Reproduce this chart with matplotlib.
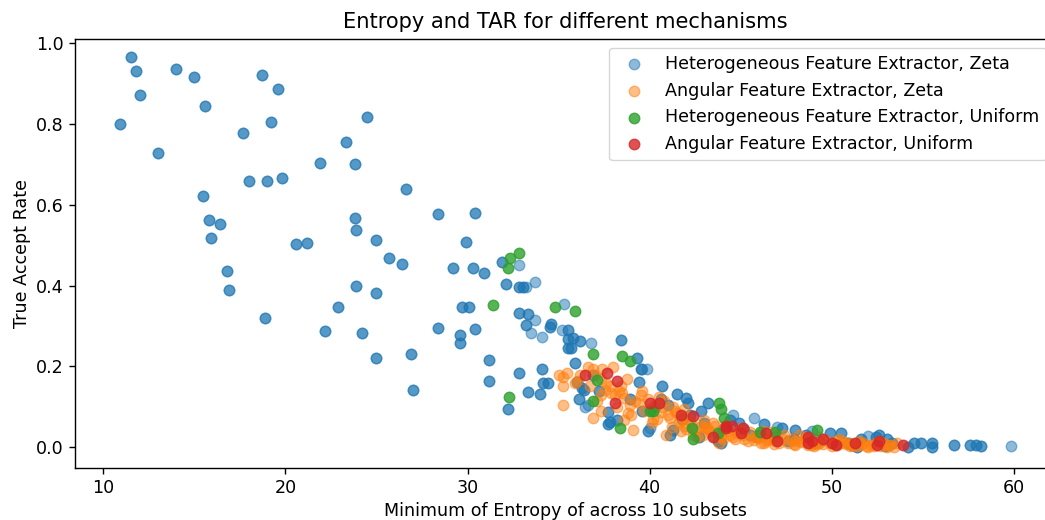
import matplotlib
matplotlib.use("Agg")
import matplotlib.pyplot as plt

# Heterogeneous Feature Extractor, Zeta -- points that occur twice in the data
hz_rep_x = [11.5, 11.8, 12.0, 10.9, 13.0, 14.0, 15.0, 15.6, 15.5, 15.8, 15.9, 16.4, 16.8, 16.9,
            17.7, 18.0, 18.7, 18.9, 19.0, 19.2, 19.6, 19.8, 20.6, 21.2, 21.9, 22.2, 22.9, 23.3,
            23.8, 23.8, 23.9, 23.9, 24.2, 24.5, 25.0, 25.0, 25.0, 25.7, 26.4, 26.6, 26.9, 27.0,
            28.4, 28.4, 29.2, 29.6, 29.6, 29.7, 29.9, 30.1, 30.3, 30.4, 30.4, 30.9, 31.2, 31.2,
            31.9, 32.1, 32.8, 33.05, 32.8, 33.3, 33.2, 34.5, 35.5, 35.8, 36.2, 35.5, 35.7,
            32.8, 34.1, 32.2, 33.3, 34.0, 34.15, 34.4, 35.9, 36.0, 36.1, 36.4, 38.4, 39.3,
            39.5, 39.4, 40.7, 41.5, 42.0, 42.1, 43.2, 36.3, 37.7, 37.7, 37.8, 38.2, 39.6, 39.9,
            41.1, 41.3, 43.75, 46.3, 47.25, 48.0, 49.9, 50.5, 52.4, 51.4, 52.6, 53.0, 54.2,
            54.5, 54.9, 55.5, 55.5, 56.7, 57.6, 57.9, 58.2, 35.5, 42.2, 42.8, 44.4, 45.2, 46.0,
            47.6, 48.6, 49.3, 50.9, 51.6, 53.3, 42.7, 43.9, 40.6, 41.0, 44.9, 45.9, 34.6,
            37.2, 38.9, 40.3, 41.8, 43.0, 44.0, 45.5, 46.8, 47.9, 49.0, 50.2, 51.1, 52.9, 36.9]
hz_rep_y = [0.964, 0.930, 0.870, 0.800, 0.727, 0.935, 0.915, 0.843, 0.620, 0.563, 0.517, 0.551,
            0.437, 0.388, 0.776, 0.657, 0.920, 0.319, 0.657, 0.803, 0.885, 0.665, 0.502, 0.504,
            0.702, 0.287, 0.346, 0.754, 0.700, 0.566, 0.536, 0.398, 0.282, 0.816, 0.512, 0.381,
            0.220, 0.467, 0.452, 0.638, 0.230, 0.143, 0.576, 0.294, 0.443, 0.257, 0.277, 0.346,
            0.507, 0.346, 0.443, 0.578, 0.292, 0.430, 0.215, 0.163, 0.457, 0.405, 0.396, 0.396,
            0.331, 0.329, 0.302, 0.297, 0.267, 0.270, 0.262, 0.245, 0.245, 0.185, 0.193, 0.096,
            0.138, 0.133, 0.158, 0.158, 0.208, 0.161, 0.119, 0.141, 0.265, 0.220, 0.195, 0.161,
            0.153, 0.133, 0.121, 0.111, 0.109, 0.146, 0.087, 0.059, 0.062, 0.067, 0.091, 0.040,
            0.030, 0.042, 0.017, 0.059, 0.049, 0.042, 0.035, 0.035, 0.025, 0.000, 0.030, 0.022,
            0.000, 0.012, 0.012, 0.012, 0.000, 0.005, 0.005, 0.005, 0.003, 0.289, 0.080, 0.090,
            0.067, 0.042, 0.030, 0.017, 0.030, 0.017, 0.012, 0.020, 0.010, 0.025, 0.010, 0.120,
            0.105, 0.060, 0.025, 0.305,
            0.140, 0.120, 0.100, 0.070, 0.060, 0.045, 0.030, 0.025, 0.020, 0.012, 0.008, 0.006,
            0.004, 0.180]
# Heterogeneous Feature Extractor, Zeta -- points that occur once
hz_one_x = [32.8, 33.2, 33.7, 33.7, 33.5, 34.1, 35.2, 35.3, 36.8, 36.45, 39.6, 39.85, 36.6,
            40.0, 45.7, 59.85, 44.6, 47.0, 48.9, 52.0]
hz_one_y = [0.450, 0.396, 0.408, 0.314, 0.282, 0.272, 0.289, 0.354, 0.257, 0.101, 0.195, 0.195,
            0.104, 0.049, 0.072, 0.003, 0.080, 0.050, 0.040, 0.028]

# Angular Feature Extractor, Zeta
az_x = [35.0, 35.25, 35.25, 35.25, 35.45, 36.6, 36.9, 37.4, 38.0, 36.2, 36.7, 37.3, 37.8, 38.4,
        38.75, 37.3, 37.55, 38.1, 38.6, 38.9, 39.2, 39.5, 39.7, 39.1, 38.6, 40.3, 40.6, 40.8,
        41.1, 41.4, 41.7, 41.9, 42.2, 42.5, 42.8, 43.0, 43.3, 43.6, 43.85, 44.1, 44.4, 44.95,
        45.2, 45.5, 46.05, 46.6, 46.9, 47.4, 48.0, 48.2, 48.8, 49.3, 49.9, 50.4, 51.0, 51.5,
        52.1, 52.6, 53.2, 53.6, 35.9, 37.0, 38.3, 39.9, 40.4, 40.7, 41.2, 41.7, 42.4, 42.9,
        43.2, 44.7, 45.8, 46.4, 47.3, 48.5, 49.3, 50.6, 51.6, 52.8, 37.3, 36.9, 39.0, 40.1,
        41.5, 42.0, 43.5, 44.2, 45.0, 46.2, 47.0, 47.8, 48.6, 49.6, 50.2, 51.2, 52.3, 53.0,
        40.9, 42.6, 44.0, 45.4, 46.8, 48.0, 49.0, 50.0, 51.0, 52.0, 53.4, 43.8, 41.9, 38.2,
        36.0, 37.9, 39.4, 40.0, 41.0, 42.3, 43.1, 44.3, 45.1, 45.9, 46.7, 47.6, 48.4, 49.2,
        50.0, 50.8, 51.7, 52.4, 53.1, 39.6, 41.3, 43.9, 46.1, 48.9, 51.4, 37.6, 38.5, 40.5,
        42.0, 43.4, 44.6, 45.7, 46.3, 47.1, 47.9, 48.7, 49.5, 50.3, 51.1, 51.9, 52.7, 40.2,
        41.6, 43.0, 44.8, 46.5, 48.3, 50.5, 37.1, 38.8]
az_y = [0.178, 0.173, 0.153, 0.106, 0.185, 0.198, 0.195, 0.195, 0.198, 0.178, 0.153, 0.170,
        0.153, 0.153, 0.170, 0.129, 0.141, 0.129, 0.121, 0.104, 0.116, 0.129, 0.091, 0.042,
        0.067, 0.104, 0.087, 0.116, 0.072, 0.091, 0.067, 0.054, 0.067, 0.042, 0.054, 0.067,
        0.037, 0.054, 0.030, 0.047, 0.030, 0.042, 0.022, 0.037, 0.027, 0.037, 0.017, 0.030,
        0.017, 0.030, 0.012, 0.025, 0.010, 0.022, 0.010, 0.017, 0.007, 0.017, 0.005, 0.012,
        0.160, 0.180, 0.140, 0.120, 0.070, 0.100, 0.050, 0.040, 0.030, 0.030, 0.045, 0.020,
        0.025, 0.015, 0.020, 0.020, 0.012, 0.015, 0.008, 0.010, 0.091, 0.072, 0.080, 0.060,
        0.085, 0.075, 0.060, 0.055, 0.045, 0.040, 0.028, 0.022, 0.025, 0.018, 0.015, 0.006,
        0.004, 0.002, 0.030, 0.025, 0.020, 0.015, 0.008, 0.005, 0.003, 0.004, 0.003, 0.002,
        0.001, 0.012, 0.095, 0.100,
        0.165, 0.135, 0.110, 0.095, 0.080, 0.055, 0.048, 0.040, 0.030, 0.025, 0.022, 0.012,
        0.015, 0.008, 0.012, 0.008, 0.010, 0.010, 0.007, 0.140, 0.100, 0.025, 0.010, 0.006,
        0.004, 0.160, 0.135, 0.125,
        0.045, 0.030, 0.025, 0.018, 0.012, 0.010, 0.008, 0.006, 0.008, 0.005, 0.006, 0.004,
        0.003, 0.070, 0.062, 0.050, 0.035, 0.020, 0.014, 0.012, 0.115, 0.085]

# Heterogeneous Feature Extractor, Uniform
hu_x = [32.35, 32.85, 32.2, 31.4, 34.8, 35.9, 36.9, 32.3, 37.1, 36.9, 38.5, 38.9, 40.0, 40.2,
        38.35, 42.3, 42.4, 43.8, 43.9, 44.1, 43.75, 46.05, 46.9, 49.2]
hu_y = [0.467, 0.480, 0.443, 0.351, 0.346, 0.336, 0.232, 0.124, 0.166, 0.114, 0.225, 0.213,
        0.091, 0.091, 0.049, 0.049, 0.022, 0.111, 0.096, 0.074, 0.035, 0.037, 0.037, 0.042]

# Angular Feature Extractor, Uniform
au_x = [36.45, 37.65, 38.2, 38.1, 40.0, 40.5, 41.7, 42.4, 43.5, 44.2, 44.2, 44.5, 45.1, 45.0,
        46.4, 47.0, 48.7, 48.7, 48.9, 49.5, 50.0, 50.2, 51.25, 52.6, 52.5, 53.9]
au_y = [0.178, 0.183, 0.163, 0.111, 0.111, 0.111, 0.079, 0.077, 0.027, 0.049, 0.054, 0.054,
        0.049, 0.035, 0.035, 0.017, 0.025, 0.012, 0.015, 0.022, 0.012, 0.007, 0.010, 0.015,
        0.005, 0.005]

hz_x = hz_rep_x + hz_rep_x + hz_one_x
hz_y = hz_rep_y + hz_rep_y + hz_one_y

k = 1.26  # the source figure was drawn at a higher dpi
plt.rcParams.update({"font.size": 10 * k, "xtick.major.size": 3.5 * k,
                     "ytick.major.size": 3.5 * k, "xtick.major.width": 0.8 * k,
                     "ytick.major.width": 0.8 * k, "axes.linewidth": 0.8 * k})

fig = plt.figure(figsize=(10.45, 5.2), dpi=100)
ax = fig.add_axes([75 / 1045, 52.3 / 520, 980 / 1045, 428.7 / 520])

ms = 36 * k * k
ax.scatter(hz_x, hz_y, s=ms, alpha=0.5, label="Heterogeneous Feature Extractor, Zeta")
ax.scatter(az_x, az_y, s=ms, alpha=0.5, label="Angular Feature Extractor, Zeta")
ax.scatter(hu_x, hu_y, s=ms, alpha=0.8, label="Heterogeneous Feature Extractor, Uniform")
ax.scatter(au_x, au_y, s=ms, alpha=0.8, label="Angular Feature Extractor, Uniform")

ax.set_xlim(8.45, 62.25)
ax.set_ylim(-0.05, 1.009)
ax.set_title("Entropy and TAR for different mechanisms", fontsize=12 * k, pad=6 * k)
ax.set_xlabel("Minimum of Entropy of across 10 subsets")
ax.set_ylabel("True Accept Rate")
ax.legend(loc="upper right")

fig.savefig("out.png", dpi=100)
